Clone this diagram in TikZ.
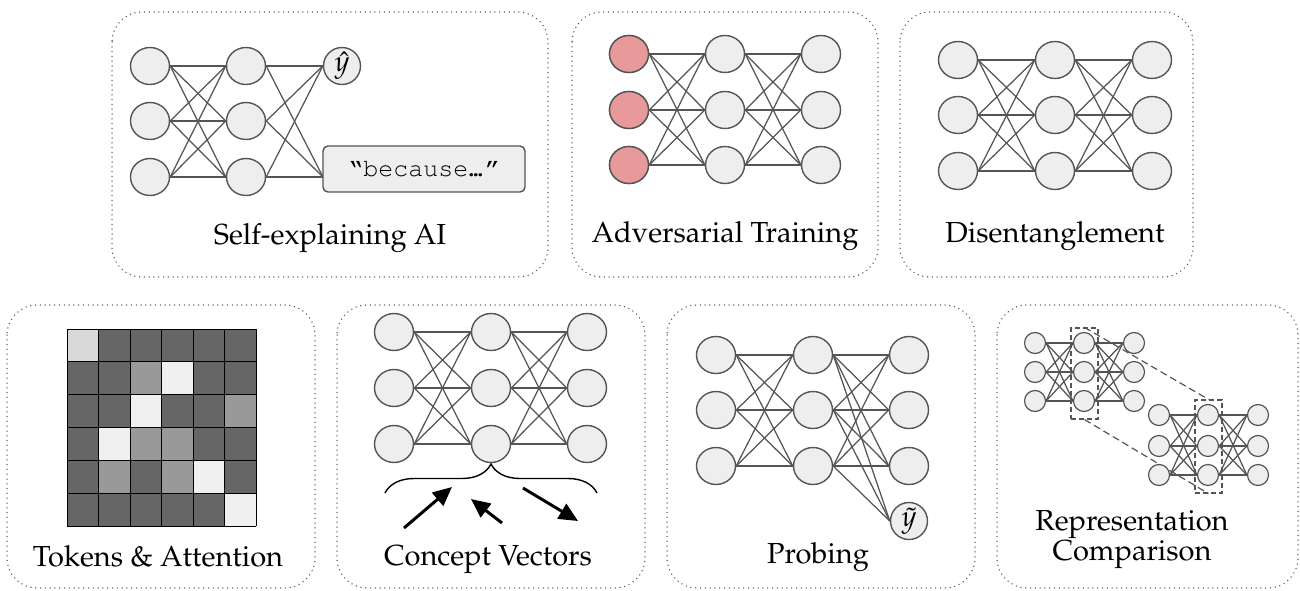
\documentclass[tikz,border=0pt]{standalone}
\usepackage[T1]{fontenc}
\usepackage{mathpazo}
\usepackage{courier}
\usetikzlibrary{shapes.geometric,arrows.meta,decorations.pathreplacing,backgrounds}
\definecolor{edgec}{HTML}{555555}
\definecolor{nfill}{HTML}{EEEEEE}
\definecolor{panelc}{HTML}{555555}
\definecolor{redfill}{HTML}{E89A9A}
\definecolor{cdark}{HTML}{666666}
\definecolor{cmid}{HTML}{999999}
\definecolor{clight}{HTML}{F0F0F0}
\definecolor{cfirst}{HTML}{D9D9D9}
\tikzset{
  neuron/.style={ellipse, draw=edgec, fill=nfill, line width=1.4pt, minimum width=39pt, minimum height=37pt, inner sep=0pt},
  sneuron/.style={circle, draw=edgec, fill=nfill, line width=1.2pt, minimum size=21pt, inner sep=0pt},
  outnode/.style={circle, draw=edgec, fill=nfill, line width=1.4pt, minimum size=37pt, inner sep=0pt, font=\fontsize{29}{32}\selectfont},
  conn/.style={draw=edgec, line width=1.25pt},
  panel/.style={draw=panelc, line width=1.5pt, line cap=round, dash pattern=on 0pt off 4.8pt, rounded corners=30pt},
  lbl/.style={anchor=base, font=\fontsize{29}{30}\selectfont, inner sep=0pt},
  dbox/.style={draw=edgec, line width=1.2pt, dash pattern=on 5pt off 3pt, inner sep=0pt},
  dline/.style={draw=edgec, line width=1.2pt, dash pattern=on 7pt off 4pt},
  cvec/.style={line width=3pt, -{Triangle[length=19pt,width=17pt]}},
  cell/.style={draw=black, line width=0.8pt},
}
\begin{document}
\begin{tikzpicture}[x=1pt,y=-1pt]
\useasboundingbox (0,0) rectangle (1300,591);

% ---------- background + panels ----------
\begin{scope}[on background layer]
\fill[white] (0,0) rectangle (1300,591);
\draw[panel] (112,12) rectangle (548,277);
\draw[panel] (572,12) rectangle (878,277);
\draw[panel] (900,12) rectangle (1193,277);
\draw[panel] (7,305) rectangle (315,588);
\draw[panel] (337,305) rectangle (645,588);
\draw[panel] (667,305) rectangle (975,588);
\draw[panel] (997,305) rectangle (1298,588);
\end{scope}

% ---------- Panel 1: Self-explaining AI ----------
\foreach \c/\x in {1/150,2/246}
  \foreach \r/\y in {1/66,2/121,3/177}
    \node[neuron] (pa\c\r) at (\x,\y) {};
\node[outnode] (yhat) at (342,66) {$\hat{y}$};
\node[draw=edgec, fill=nfill, line width=1.4pt, rounded corners=5pt, minimum width=202pt, minimum height=46pt, inner sep=0pt,
      font=\fontsize{25}{30}\ttfamily] (expl) at (424,169) {\textquotedblleft because\kern-.18em.\kern-.42em.\kern-.42em.\kern-.12em\textquotedblright};
\coordinate (explin) at (323,177);
\begin{scope}[on background layer]
\foreach \i in {1,2,3} {
  \foreach \j in {1,2,3} \draw[conn] (pa1\i.east) -- (pa2\j.west);
  \draw[conn] (pa2\i.east) -- (yhat.west);
  \draw[conn] (pa2\i.east) -- (explin);
}
\end{scope}
\node[lbl] (l1) at (330,244) {Self-explaining AI};

% ---------- Panel 2: Adversarial Training ----------
\foreach \c/\x in {1/629,2/725,3/821}
  \foreach \r/\y in {1/54,2/110,3/165}
    \node[neuron] (pb\c\r) at (\x,\y) {};
\foreach \r in {1,2,3} \node[neuron, fill=redfill] at (pb1\r) {};
\begin{scope}[on background layer]
\foreach \i in {1,2,3}
  \foreach \j in {1,2,3} {
    \draw[conn] (pb1\i.east) -- (pb2\j.west);
    \draw[conn] (pb2\i.east) -- (pb3\j.west);
  }
\end{scope}
\node[lbl] (l2) at (725,242) {Adversarial Training};

% ---------- Panel 3: Disentanglement ----------
\foreach \c/\x in {1/958,2/1055,3/1152}
  \foreach \r/\y in {1/60,2/115,3/171}
    \node[neuron] (pc\c\r) at (\x,\y) {};
\begin{scope}[on background layer]
\foreach \i in {1,2,3}
  \foreach \j in {1,2,3} {
    \draw[conn] (pc1\i.east) -- (pc2\j.west);
    \draw[conn] (pc2\i.east) -- (pc3\j.west);
  }
\end{scope}
\node[lbl] (l3) at (1055,242) {Disentanglement};

% ---------- Panel 4: Tokens & Attention ----------
\foreach \row/\cols in {0/{f,d,d,d,d,d},1/{d,d,m,l,d,d},2/{d,d,l,d,d,m},3/{d,l,m,m,d,d},4/{d,m,d,m,l,d},5/{d,d,d,d,d,l}} {
  \foreach \v [count=\k from 0] in \cols {
    \if d\v\def\cc{cdark}\fi
    \if m\v\def\cc{cmid}\fi
    \if l\v\def\cc{clight}\fi
    \if f\v\def\cc{cfirst}\fi
    \fill[\cc] (67+\k*31.5,329+\row*32.83) rectangle (67+\k*31.5+31.5,329+\row*32.83+32.83);
  }
}
\foreach \k in {0,...,6} {
  \draw[cell] (67+\k*31.5,329) -- (67+\k*31.5,526);
  \draw[cell] (67,329+\k*32.83) -- (256,329+\k*32.83);
}
\node[lbl] (l4) at (158,566) {Tokens \& Attention};

% ---------- Panel 5: Concept Vectors ----------
\foreach \c/\x in {1/394,2/491,3/587}
  \foreach \r/\y in {1/332,2/388,3/444}
    \node[neuron] (pd\c\r) at (\x,\y) {};
\begin{scope}[on background layer]
\foreach \i in {1,2,3}
  \foreach \j in {1,2,3} {
    \draw[conn] (pd1\i.east) -- (pd2\j.west);
    \draw[conn] (pd2\i.east) -- (pd3\j.west);
  }
\end{scope}
\coordinate (brL) at (385,493);
\coordinate (brR) at (597,493);
\draw[line width=1.4pt, decorate, decoration={brace, amplitude=29pt}] (brL) -- (brR);
\coordinate (v1s) at (404,528); \coordinate (v1e) at (452,487);
\coordinate (v2s) at (502,523); \coordinate (v2e) at (471,499);
\coordinate (v3s) at (523,488); \coordinate (v3e) at (578,521);
\draw[cvec] (v1s) -- (v1e);
\draw[cvec] (v2s) -- (v2e);
\draw[cvec] (v3s) -- (v3e);
\node[lbl] (l5) at (488,565) {Concept Vectors};

% ---------- Panel 6: Probing ----------
\foreach \c/\x in {1/716,2/813,3/909}
  \foreach \r/\y in {1/355,2/410,3/466}
    \node[neuron] (pe\c\r) at (\x,\y) {};
\node[outnode] (ytil) at (909,521) {$\tilde{y}$};
\begin{scope}[on background layer]
\foreach \i in {1,2,3} {
  \foreach \j in {1,2,3} {
    \draw[conn] (pe1\i.east) -- (pe2\j.west);
    \draw[conn] (pe2\i.east) -- (pe3\j.west);
  }
  \draw[conn] (pe2\i.east) -- (ytil.west);
}
\end{scope}
\node[lbl] (l6) at (818,563) {Probing};

% ---------- Panel 7: Representation Comparison ----------
\foreach \c/\x in {1/1035,2/1084,3/1134}
  \foreach \r/\y in {1/343,2/372,3/401}
    \node[sneuron] (pf\c\r) at (\x,\y) {};
\foreach \c/\x in {1/1159,2/1208,3/1258}
  \foreach \r/\y in {1/415,2/446,3/475}
    \node[sneuron] (pg\c\r) at (\x,\y) {};
\node[dbox, minimum width=27pt, minimum height=91pt] (boxA) at (1084.5,373.5) {};
\node[dbox, minimum width=27pt, minimum height=93pt] (boxB) at (1208.5,446.5) {};
\begin{scope}[on background layer]
\foreach \i in {1,2,3}
  \foreach \j in {1,2,3} {
    \draw[conn] (pf1\i.east) -- (pf2\j.west);
    \draw[conn] (pf2\i.east) -- (pf3\j.west);
    \draw[conn] (pg1\i.east) -- (pg2\j.west);
    \draw[conn] (pg2\i.east) -- (pg3\j.west);
  }
\draw[dline] (boxA.north) -- (boxB.north);
\draw[dline] (boxA.south) -- (boxB.south);
\end{scope}
\node[lbl, align=center] (l7) at (1132,560) {Representation\\Comparison};
\end{tikzpicture}
\end{document}
